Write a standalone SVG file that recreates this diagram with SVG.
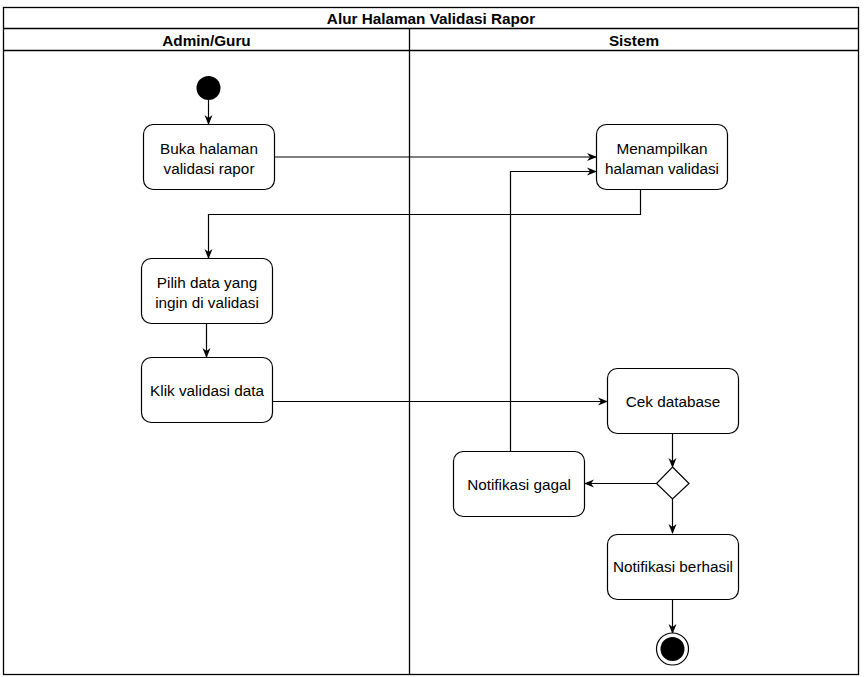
<svg xmlns="http://www.w3.org/2000/svg" width="864" height="677" viewBox="0 0 864 677">
<style>
.frame{fill:#fff;stroke:#000;stroke-width:1.3}
.node{fill:#fff;stroke:#000;stroke-width:1.2}
.t{font-family:"Liberation Sans",Arial,sans-serif;font-size:15.3px;fill:#000;text-anchor:middle}
.h{font-family:"Liberation Sans",Arial,sans-serif;font-size:15.3px;font-weight:bold;fill:#000;text-anchor:middle}
.c{fill:none;stroke:#000;stroke-width:1.2;marker-end:url(#arr)}
</style>
<defs>
<marker id="arr" viewBox="0 0 10 10" refX="9" refY="5" markerWidth="10" markerHeight="10" markerUnits="userSpaceOnUse" orient="auto">
<path d="M0,1 L10,5 L0,9 L3,5 Z" fill="#000"/>
</marker>
</defs>
<rect width="864" height="677" fill="#fff"/>
<g id="pool">
<rect class="frame" x="3.5" y="7.5" width="855" height="667"/>
<line class="frame" x1="3.5" y1="28.5" x2="858.5" y2="28.5"/>
<line class="frame" x1="3.5" y1="50.5" x2="858.5" y2="50.5"/>
<line class="frame" x1="409.5" y1="28.5" x2="409.5" y2="674.5"/>
<text class="h" x="431" y="23.5">Alur Halaman Validasi Rapor</text>
<text class="h" x="206.5" y="45.5">Admin/Guru</text>
<text class="h" x="634" y="45.5">Sistem</text>
</g>
<g id="connectors">
<line class="c" x1="208.5" y1="100" x2="208.5" y2="124"/>
<line class="c" x1="274" y1="157" x2="596" y2="157"/>
<polyline class="c" points="640.5,190 640.5,214.5 208.5,214.5 208.5,258"/>
<line class="c" x1="206.5" y1="323" x2="206.5" y2="357"/>
<line class="c" x1="272" y1="401.5" x2="607" y2="401.5"/>
<line class="c" x1="672.5" y1="433" x2="672.5" y2="467"/>
<line class="c" x1="656.5" y1="483.5" x2="585" y2="483.5"/>
<line class="c" x1="672.5" y1="499" x2="672.5" y2="533"/>
<polyline class="c" points="510.5,451 510.5,171.5 596,171.5"/>
<line class="c" x1="672.5" y1="599" x2="672.5" y2="633"/>
</g>
<g id="start"><circle cx="208.5" cy="88" r="12" fill="#000"/></g>
<g id="buka">
<rect class="node" x="143.5" y="124.5" width="131" height="65" rx="9.75"/>
<text class="t" x="209" y="154">Buka halaman</text>
<text class="t" x="209" y="174">validasi rapor</text>
</g>
<g id="menampilkan">
<rect class="node" x="596.5" y="124.5" width="131" height="65" rx="9.75"/>
<text class="t" x="662" y="154">Menampilkan</text>
<text class="t" x="662" y="174">halaman validasi</text>
</g>
<g id="pilih">
<rect class="node" x="141.5" y="258.5" width="131" height="65" rx="9.75"/>
<text class="t" x="207" y="288">Pilih data yang</text>
<text class="t" x="207" y="308">ingin di validasi</text>
</g>
<g id="klik">
<rect class="node" x="141.5" y="357.5" width="131" height="65" rx="9.75"/>
<text class="t" x="207" y="396">Klik validasi data</text>
</g>
<g id="cek">
<rect class="node" x="607.5" y="368.5" width="131" height="65" rx="9.75"/>
<text class="t" x="673" y="407">Cek database</text>
</g>
<g id="decision">
<polygon class="node" points="672.5,467 689,483.5 672.5,499 656.5,483.5"/>
</g>
<g id="gagal">
<rect class="node" x="453.5" y="451.5" width="131" height="65" rx="9.75"/>
<text class="t" x="519" y="490">Notifikasi gagal</text>
</g>
<g id="berhasil">
<rect class="node" x="607.5" y="534.5" width="131" height="65" rx="9.75"/>
<text class="t" x="673" y="572">Notifikasi berhasil</text>
</g>
<g id="end">
<circle cx="672.5" cy="649" r="16" fill="#fff" stroke="#000" stroke-width="1.2"/>
<circle cx="672.5" cy="649" r="12" fill="#000"/>
</g>
</svg>
